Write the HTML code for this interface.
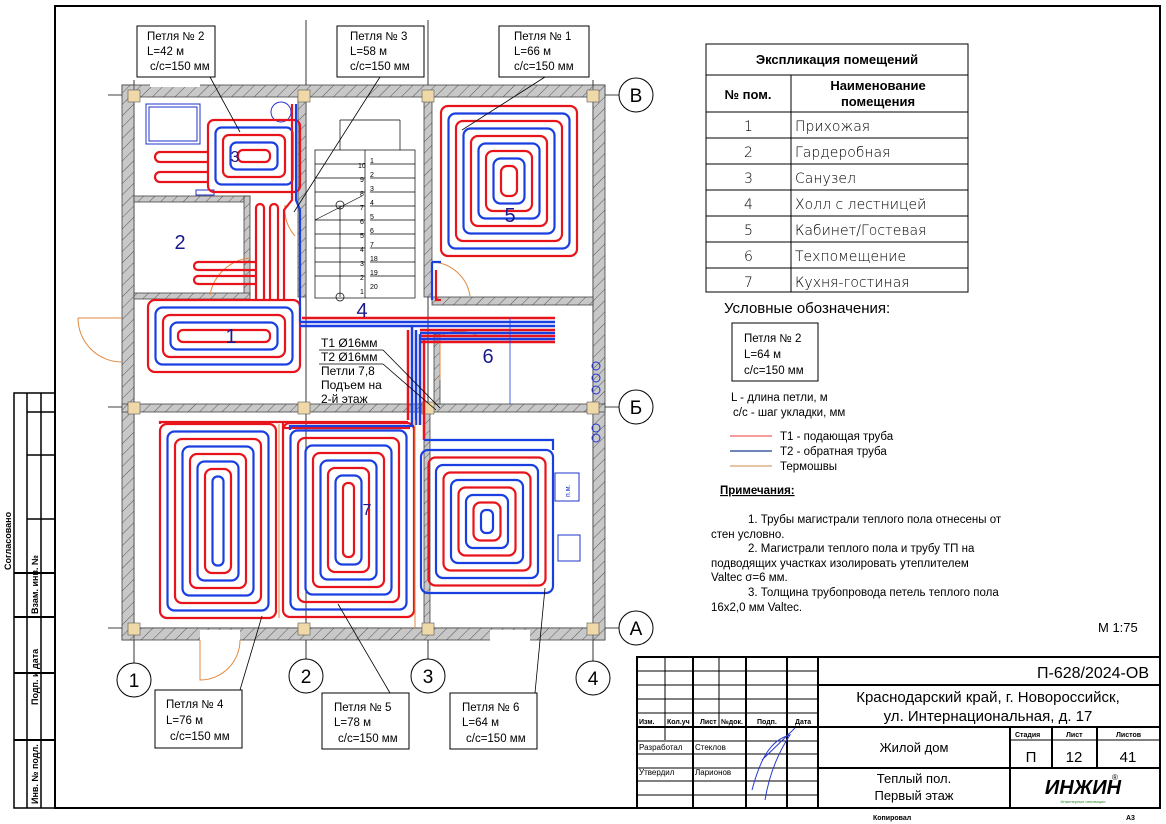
<!DOCTYPE html>
<html><head><meta charset="utf-8"><style>
html,body{margin:0;padding:0;background:#fff;width:1166px;height:824px;overflow:hidden}
svg{display:block;font-family:"Liberation Sans","DejaVu Sans",sans-serif}
</style></head><body>
<svg width="1166" height="824" viewBox="0 0 1166 824" xmlns="http://www.w3.org/2000/svg">
<defs>
<pattern id="h" width="8" height="8" patternUnits="userSpaceOnUse" patternTransform="rotate(45)"><rect width="8" height="8" fill="#c8c8c8"/><line x1="0" y1="0" x2="0" y2="8" stroke="#555" stroke-width="1"/></pattern>
</defs>
<!-- frame -->
<rect x="55" y="6" width="1105" height="802" fill="none" stroke="#000" stroke-width="2"/>
<!-- left strip -->
<g stroke="#000" stroke-width="1.5" fill="none">
<rect x="14" y="393" width="41" height="415"/>
<line x1="27" y1="393" x2="27" y2="573"/><line x1="41" y1="393" x2="41" y2="808"/>
<line x1="27" y1="573" x2="27" y2="808"/>
<line x1="14" y1="573" x2="55" y2="573" stroke-width="2"/>
<line x1="27" y1="412" x2="55" y2="412"/><line x1="27" y1="455" x2="55" y2="455"/><line x1="27" y1="519" x2="55" y2="519"/>
<line x1="14" y1="617" x2="55" y2="617" stroke-width="2"/>
<line x1="14" y1="673" x2="55" y2="673" stroke-width="2"/>
<line x1="14" y1="740" x2="55" y2="740" stroke-width="2"/>
</g>
<g font-size="9" font-weight="bold" fill="#000">
<text transform="translate(11,570) rotate(-90)">Согласовано</text>
<text transform="translate(38,614) rotate(-90)">Взам. инв. №</text>
<text transform="translate(38,705) rotate(-90)">Подп. и дата</text>
<text transform="translate(38,804) rotate(-90)">Инв. № подл.</text>
</g>

<!-- axes lines -->
<g stroke="#000" stroke-width="0.8">
<line x1="108" y1="95" x2="619" y2="95"/><line x1="108" y1="407" x2="619" y2="407"/><line x1="108" y1="628" x2="619" y2="628"/>
<line x1="134" y1="80" x2="134" y2="663"/><line x1="306" y1="20" x2="306" y2="659"/><line x1="428" y1="20" x2="428" y2="659"/><line x1="593" y1="80" x2="593" y2="661"/>
</g>
<g fill="#fff" stroke="#000" stroke-width="1">
<circle cx="636" cy="95" r="17"/><circle cx="636" cy="407" r="17"/><circle cx="636" cy="628" r="17"/>
<circle cx="134" cy="680" r="17"/><circle cx="306" cy="676" r="17"/><circle cx="428" cy="676" r="17"/><circle cx="593" cy="678" r="17"/>
</g>
<g font-size="19" text-anchor="middle" fill="#000">
<text x="636" y="102">В</text><text x="636" y="414">Б</text><text x="636" y="635">А</text>
<text x="134" y="687">1</text><text x="306" y="683">2</text><text x="428" y="683">3</text><text x="593" y="685">4</text>
</g>

<!-- walls -->
<g stroke="#444" stroke-width="0.8">
<rect x="122" y="85" width="483" height="12" fill="url(#h)"/>
<rect x="122" y="628" width="483" height="12" fill="url(#h)"/>
<rect x="122" y="85" width="12" height="555" fill="url(#h)"/>
<rect x="593" y="85" width="12" height="555" fill="url(#h)"/>
<rect x="122" y="404" width="483" height="8" fill="url(#h)"/>
<rect x="298" y="97" width="8" height="200" fill="url(#h)"/>
<rect x="424" y="97" width="8" height="200" fill="url(#h)"/>
<rect x="424" y="412" width="6" height="216" fill="url(#h)"/>
<rect x="432" y="297" width="161" height="8" fill="url(#h)"/>
<rect x="134" y="196" width="116" height="6" fill="url(#h)"/>
<rect x="244" y="196" width="6" height="100" fill="url(#h)"/>
<rect x="134" y="293" width="116" height="6" fill="url(#h)"/>
<rect x="434" y="334" width="6" height="70" fill="url(#h)"/>
</g>
<g fill="#f0d9a8" stroke="#555" stroke-width="0.6">
<rect x="128" y="90" width="12" height="12"/><rect x="298" y="90" width="12" height="12"/><rect x="422" y="90" width="12" height="12"/><rect x="587" y="90" width="12" height="12"/>
<rect x="128" y="402" width="12" height="12"/><rect x="298" y="402" width="12" height="12"/><rect x="422" y="402" width="12" height="12"/><rect x="587" y="402" width="12" height="12"/>
<rect x="128" y="623" width="12" height="12"/><rect x="298" y="623" width="12" height="12"/><rect x="422" y="623" width="12" height="12"/><rect x="587" y="623" width="12" height="12"/>
</g>
<!-- openings (white gaps) -->
<g fill="#fff">
<rect x="200" y="630" width="40" height="12"/><rect x="490" y="630" width="40" height="12"/>
<rect x="150" y="83" width="50" height="4"/>
</g>
<!-- stairs -->
<g stroke="#000" stroke-width="0.7" fill="none">
<rect x="315" y="150" width="100" height="148"/>
<line x1="365" y1="150" x2="365" y2="298"/>
<line x1="340" y1="120" x2="400" y2="120"/><line x1="340" y1="120" x2="340" y2="150"/><line x1="400" y1="120" x2="400" y2="150"/>
<line x1="315" y1="164" x2="365" y2="164"/><line x1="315" y1="178" x2="365" y2="178"/><line x1="315" y1="192" x2="365" y2="192"/><line x1="315" y1="206" x2="365" y2="206"/><line x1="315" y1="220" x2="365" y2="220"/><line x1="315" y1="234" x2="365" y2="234"/><line x1="315" y1="248" x2="365" y2="248"/><line x1="315" y1="262" x2="365" y2="262"/><line x1="315" y1="276" x2="365" y2="276"/>
<line x1="370" y1="164" x2="415" y2="164"/><line x1="370" y1="178" x2="415" y2="178"/><line x1="370" y1="192" x2="415" y2="192"/><line x1="370" y1="206" x2="415" y2="206"/><line x1="370" y1="220" x2="415" y2="220"/><line x1="370" y1="234" x2="415" y2="234"/><line x1="370" y1="248" x2="415" y2="248"/><line x1="370" y1="262" x2="415" y2="262"/><line x1="370" y1="276" x2="415" y2="276"/>
<line x1="340" y1="206" x2="340" y2="297"/><circle cx="340" cy="205" r="4"/><circle cx="340" cy="297" r="4"/>
<line x1="315" y1="220" x2="362" y2="196"/>
</g>
<g font-size="7" fill="#000"><text x="358" y="168">10</text><text x="360" y="182">9</text><text x="360" y="196">8</text><text x="360" y="210">7</text><text x="360" y="224">6</text><text x="360" y="238">5</text><text x="360" y="252">4</text><text x="360" y="266">3</text><text x="360" y="280">2</text><text x="360" y="294">1</text>
<text x="370" y="163">1</text><text x="370" y="177">2</text><text x="370" y="191">3</text><text x="370" y="205">4</text><text x="370" y="219">5</text><text x="370" y="233">6</text><text x="370" y="247">7</text><text x="370" y="261">18</text><text x="370" y="275">19</text><text x="370" y="289">20</text></g>
<!-- fixtures -->
<g stroke="#2233cc" stroke-width="1" fill="none">
<rect x="146" y="104" width="54" height="40"/><rect x="149" y="107" width="48" height="34"/>
<circle cx="281" cy="112" r="10"/><rect x="196" y="190" width="18" height="5"/>
<rect x="555" y="473" width="24" height="28"/><rect x="558" y="535" width="22" height="26"/>
<circle cx="596" cy="366" r="4"/><circle cx="596" cy="378" r="4"/><circle cx="596" cy="390" r="4"/><circle cx="596" cy="428" r="4"/><circle cx="596" cy="438" r="4"/>
</g>
<text x="570" y="497" font-size="7" fill="#2233cc" transform="rotate(-90 570 497)">п.м.</text>
<!-- doors orange -->
<g stroke="#e08a40" stroke-width="1" fill="none">
<path d="M78 318 L122 318 M78 318 A44 44 0 0 0 122 362"/>
<path d="M250 258 A45 45 0 0 0 210 295"/>
<path d="M285 205 A40 40 0 0 0 295 236"/>
<path d="M432 262 A40 40 0 0 1 470 296"/>
<path d="M440 336 L440 380 M440 336 A40 40 0 0 1 478 336"/>
<path d="M200 640 L200 680 A40 40 0 0 0 240 640"/>
</g>

<!-- heating loops -->
<g fill="none" stroke-width="2.2">
<!-- loop 4 -->
<rect x="160" y="424" width="116" height="194" rx="7" stroke="#e8141c"/>
<rect x="167.5" y="431.5" width="101" height="179" rx="7" stroke="#1a3fe0"/>
<rect x="175" y="439" width="86" height="164" rx="7" stroke="#e8141c"/>
<rect x="182.5" y="446.5" width="71" height="149" rx="7" stroke="#1a3fe0"/>
<rect x="190" y="454" width="56" height="134" rx="7" stroke="#e8141c"/>
<rect x="197.5" y="461.5" width="41" height="119" rx="7" stroke="#1a3fe0"/>
<rect x="205" y="469" width="26" height="104" rx="7" stroke="#e8141c"/>
<rect x="212.5" y="476.5" width="11" height="89" rx="5" stroke="#1a3fe0"/>
<!-- loop 5 -->
<rect x="283" y="423" width="131" height="194" rx="7" stroke="#e8141c"/>
<rect x="290.5" y="430.5" width="116" height="179" rx="7" stroke="#1a3fe0"/>
<rect x="298" y="438" width="101" height="164" rx="7" stroke="#e8141c"/>
<rect x="305.5" y="445.5" width="86" height="149" rx="7" stroke="#1a3fe0"/>
<rect x="313" y="453" width="71" height="134" rx="7" stroke="#e8141c"/>
<rect x="320.5" y="460.5" width="56" height="119" rx="7" stroke="#1a3fe0"/>
<rect x="328" y="468" width="41" height="104" rx="7" stroke="#e8141c"/>
<rect x="335.5" y="475.5" width="26" height="89" rx="7" stroke="#1a3fe0"/>
<rect x="343" y="483" width="11" height="74" rx="5" stroke="#e8141c"/>
<!-- loop 6 -->
<rect x="421" y="450" width="132" height="143" rx="7" stroke="#1a3fe0"/>
<rect x="428.5" y="457.5" width="117" height="128" rx="7" stroke="#e8141c"/>
<rect x="436" y="465" width="102" height="113" rx="7" stroke="#1a3fe0"/>
<rect x="443.5" y="472.5" width="87" height="98" rx="7" stroke="#e8141c"/>
<rect x="451" y="480" width="72" height="83" rx="7" stroke="#1a3fe0"/>
<rect x="458.5" y="487.5" width="57" height="68" rx="7" stroke="#e8141c"/>
<rect x="466" y="495" width="42" height="53" rx="7" stroke="#1a3fe0"/>
<rect x="473.5" y="502.5" width="27" height="38" rx="7" stroke="#e8141c"/>
<rect x="481" y="510" width="12" height="23" rx="5" stroke="#1a3fe0"/>
<!-- room 5 -->
<rect x="441" y="106" width="136" height="150" rx="7" stroke="#e8141c"/>
<rect x="448.5" y="113.5" width="121" height="135" rx="7" stroke="#1a3fe0"/>
<rect x="456" y="121" width="106" height="120" rx="7" stroke="#e8141c"/>
<rect x="463.5" y="128.5" width="91" height="105" rx="7" stroke="#1a3fe0"/>
<rect x="471" y="136" width="76" height="90" rx="7" stroke="#e8141c"/>
<rect x="478.5" y="143.5" width="61" height="75" rx="7" stroke="#1a3fe0"/>
<rect x="486" y="151" width="46" height="60" rx="7" stroke="#e8141c"/>
<rect x="493.5" y="158.5" width="31" height="45" rx="7" stroke="#1a3fe0"/>
<rect x="501" y="166" width="16" height="30" rx="6" stroke="#e8141c"/>
<!-- room 3 -->
<rect x="208" y="120" width="92" height="72" rx="6" stroke="#e8141c"/>
<rect x="215.5" y="127.5" width="77" height="57" rx="6" stroke="#1a3fe0"/>
<rect x="223" y="135" width="62" height="42" rx="6" stroke="#e8141c"/>
<rect x="230.5" y="142.5" width="47" height="27" rx="6" stroke="#1a3fe0"/>
<rect x="238" y="150" width="32" height="12" rx="5" stroke="#e8141c"/>
<path d="M208 152 H160 M208 162 H160 M208 172 H160 M208 182 H160 M160 152 A5 5 0 0 0 160 162 M160 172 A5 5 0 0 0 160 182" stroke="#e8141c"/>
<!-- room 1 -->
<rect x="148" y="300" width="152" height="72" rx="7" stroke="#e8141c"/>
<rect x="155.5" y="307.5" width="137" height="57" rx="7" stroke="#1a3fe0"/>
<rect x="163" y="315" width="122" height="42" rx="7" stroke="#e8141c"/>
<rect x="170.5" y="322.5" width="107" height="27" rx="7" stroke="#1a3fe0"/>
<rect x="178" y="330" width="92" height="12" rx="5" stroke="#e8141c"/>
<!-- corridor combs -->
<path d="M256 300 V208 A4 4 0 0 1 264 208 V300 M270 300 V208 A4 4 0 0 1 278 208 V300 M284 300 V210 L292 200 V104" stroke="#e8141c"/>
<path d="M256 262 H198 A4 4 0 0 0 198 270 H256 M256 276 H198 A4 4 0 0 0 198 284 H256" stroke="#e8141c"/>
<path d="M296 104 V200 L300 210 V322" stroke="#1a3fe0"/>
<!-- mains -->
<path d="M300 322 H555 M300 326 H555" stroke="#1a3fe0" stroke-width="2.5"/>
<path d="M302 318 H555" stroke="#e8141c" stroke-width="2.5"/>
<path d="M420 330 H555 M420 336 H555 M420 342 H555" stroke="#e8141c" stroke-width="2.5"/>
<path d="M420 333 H555 M420 339 H555" stroke="#1a3fe0" stroke-width="2.5"/>
<path d="M412 326 V425 M416 330 V425 M420 334 V425" stroke="#1a3fe0" stroke-width="2.5"/>
<path d="M408 330 V420 M424 340 V440" stroke="#e8141c" stroke-width="2.5"/>
<path d="M283 423 V428 H410 M160 424 V422 H408" stroke="#e8141c"/>
<path d="M290 430 V426 H414" stroke="#1a3fe0"/>
<path d="M424 440 H553 V450" stroke="#1a3fe0"/>
<path d="M432 262 V300 M432 262 H441" stroke="#1a3fe0"/>
<path d="M436 270 V300 H441" stroke="#e8141c"/>
<line x1="510" y1="318" x2="510" y2="404" stroke="#1a3fe0" stroke-width="0.8"/>
<line x1="415" y1="420" x2="415" y2="628" stroke="#e08a40" stroke-width="1"/>
<line x1="279" y1="424" x2="279" y2="618" stroke="#e08a40" stroke-width="1"/>
</g>
<!-- room numbers -->
<g font-size="20" fill="#1a1a8c" text-anchor="middle">
<text x="231" y="343">1</text><text x="180" y="249">2</text><text x="235" y="162" font-size="16">3</text><text x="362" y="317">4</text><text x="510" y="222">5</text><text x="488" y="363">6</text><text x="367" y="515" font-size="16">7</text>
</g>
<!-- pipe note -->
<g font-size="12" fill="#000">
<text x="321" y="347">Т1 Ø16мм</text><text x="321" y="361">Т2 Ø16мм</text><text x="321" y="375">Петли 7,8</text><text x="321" y="389">Подъем на</text><text x="321" y="403">2-й этаж</text>
</g>
<g stroke="#000" stroke-width="0.8" fill="none">
<line x1="319" y1="350" x2="383" y2="350"/><line x1="383" y1="350" x2="440" y2="408"/>
<line x1="319" y1="364" x2="383" y2="364"/><line x1="383" y1="364" x2="436" y2="410"/>
<!-- leaders -->
<line x1="210" y1="77" x2="240" y2="132"/><line x1="380" y1="77" x2="294" y2="212"/><line x1="545" y1="77" x2="462" y2="130"/>
<line x1="240" y1="690" x2="262" y2="616"/><line x1="390" y1="693" x2="338" y2="604"/><line x1="535" y1="693" x2="545" y2="588"/>
</g>
<!-- callout boxes -->
<g fill="#fff" stroke="#000" stroke-width="1">
<rect x="137" y="26" width="78" height="51"/><rect x="337" y="26" width="87" height="51"/><rect x="499" y="26" width="90" height="51"/>
<rect x="155" y="690" width="87" height="58"/><rect x="322" y="693" width="87" height="56"/><rect x="450" y="693" width="87" height="56"/>
<rect x="732" y="323" width="86" height="58"/>
</g>
<g font-size="11.5" fill="#000">
<text x="147" y="40">Петля № 2</text><text x="147" y="55">L=42 м</text><text x="150" y="70">c/c=150 мм</text>
<text x="350" y="40">Петля № 3</text><text x="350" y="55">L=58 м</text><text x="350" y="70">c/c=150 мм</text>
<text x="514" y="40">Петля № 1</text><text x="514" y="55">L=66 м</text><text x="514" y="70">c/c=150 мм</text>
<text x="166" y="708">Петля № 4</text><text x="166" y="724">L=76 м</text><text x="170" y="740">c/c=150 мм</text>
<text x="334" y="711">Петля № 5</text><text x="334" y="726">L=78 м</text><text x="338" y="742">c/c=150 мм</text>
<text x="462" y="711">Петля № 6</text><text x="462" y="726">L=64 м</text><text x="466" y="742">c/c=150 мм</text>
<text x="744" y="342">Петля № 2</text><text x="744" y="358">L=64 м</text><text x="744" y="374">c/c=150 мм</text>
</g>

<!-- explication table -->
<g stroke="#000" stroke-width="1" fill="none">
<rect x="706" y="44" width="262" height="248"/>
<line x1="706" y1="75" x2="968" y2="75"/><line x1="706" y1="112" x2="968" y2="112"/>
<line x1="706" y1="138" x2="968" y2="138"/><line x1="706" y1="164" x2="968" y2="164"/><line x1="706" y1="190" x2="968" y2="190"/><line x1="706" y1="216" x2="968" y2="216"/><line x1="706" y1="242" x2="968" y2="242"/><line x1="706" y1="268" x2="968" y2="268"/>
<line x1="791" y1="75" x2="791" y2="292"/>
</g>
<g font-size="13" fill="#000" font-weight="bold" text-anchor="middle">
<text x="837" y="64">Экспликация помещений</text>
<text x="748" y="99">№ пом.</text><text x="878" y="90">Наименование</text><text x="878" y="106">помещения</text>
</g>
<g font-size="14" fill="#000" font-family="'DejaVu Sans',sans-serif" font-weight="200">
<text x="744" y="131">1</text><text x="744" y="157">2</text><text x="744" y="183">3</text><text x="744" y="209">4</text><text x="744" y="235">5</text><text x="744" y="261">6</text><text x="744" y="287">7</text>
<text x="795" y="131">Прихожая</text><text x="795" y="157">Гардеробная</text><text x="795" y="183">Санузел</text><text x="795" y="209">Холл с лестницей</text><text x="795" y="235">Кабинет/Гостевая</text><text x="795" y="261">Техпомещение</text><text x="795" y="287">Кухня-гостиная</text>
</g>
<!-- legend -->
<text x="724" y="313" font-size="15" fill="#000">Условные обозначения:</text>
<g font-size="11.5" fill="#000">
<text x="731" y="401">L - длина петли, м</text><text x="733" y="416">с/с - шаг укладки, мм</text>
<text x="780" y="440">Т1 - подающая труба</text><text x="780" y="455">Т2 - обратная труба</text><text x="780" y="470">Термошвы</text>
<text x="720" y="494" font-weight="bold" text-decoration="underline">Примечания:</text>
<text x="748" y="523">1.    Трубы магистрали теплого пола отнесены от</text>
<text x="711" y="538">стен условно.</text>
<text x="748" y="552">2.    Магистрали теплого пола и трубу ТП на</text>
<text x="711" y="567">подводящих участках изолировать утеплителем</text>
<text x="711" y="581">Valtec σ=6 мм.</text>
<text x="748" y="596">3.    Толщина трубопровода петель теплого пола</text>
<text x="711" y="611">16х2,0 мм Valtec.</text>
<text x="1098" y="632" font-size="13">М 1:75</text>
</g>
<g stroke-width="1.2"><line x1="730" y1="436" x2="772" y2="436" stroke="#f06060"/><line x1="730" y1="451" x2="772" y2="451" stroke="#1a3f90"/><line x1="730" y1="466" x2="772" y2="466" stroke="#d8a070"/></g>

<!-- title block -->
<g stroke="#000" stroke-width="1" fill="none">
<rect x="637" y="657" width="523" height="151" stroke-width="2" fill="#fff"/>
<line x1="665" y1="657" x2="665" y2="740"/><line x1="693" y1="657" x2="693" y2="808" stroke-width="2"/><line x1="719" y1="657" x2="719" y2="727"/><line x1="746" y1="657" x2="746" y2="808" stroke-width="2"/><line x1="787" y1="657" x2="787" y2="808" stroke-width="2"/><line x1="818" y1="657" x2="818" y2="808" stroke-width="2"/>
<line x1="637" y1="671" x2="818" y2="671"/><line x1="637" y1="685" x2="818" y2="685"/><line x1="637" y1="699" x2="818" y2="699"/><line x1="637" y1="713" x2="818" y2="713"/><line x1="637" y1="727" x2="818" y2="727" stroke-width="2"/><line x1="637" y1="741" x2="818" y2="741"/><line x1="637" y1="754" x2="818" y2="754"/><line x1="637" y1="768" x2="818" y2="768"/><line x1="637" y1="781" x2="818" y2="781"/><line x1="637" y1="795" x2="818" y2="795"/>
<line x1="818" y1="685" x2="1160" y2="685" stroke-width="2"/><line x1="818" y1="727" x2="1160" y2="727" stroke-width="2"/><line x1="818" y1="768" x2="1160" y2="768" stroke-width="2"/>
<line x1="1010" y1="727" x2="1010" y2="808" stroke-width="2"/><line x1="1052" y1="727" x2="1052" y2="768" stroke-width="2"/><line x1="1097" y1="727" x2="1097" y2="768" stroke-width="2"/><line x1="1010" y1="740" x2="1160" y2="740"/>
</g>
<g font-size="7" font-weight="bold" fill="#000">
<text x="639" y="724">Изм.</text><text x="667" y="724">Кол.уч</text><text x="700" y="724">Лист</text><text x="721" y="724">№док.</text><text x="757" y="724">Подп.</text><text x="795" y="724">Дата</text>
<text x="639" y="750" font-weight="normal" font-size="8">Разработал</text><text x="695" y="750" font-size="8" font-weight="normal">Стеклов</text>
<text x="639" y="775" font-weight="normal" font-size="8">Утвердил</text><text x="695" y="775" font-size="8" font-weight="normal">Ларионов</text>
<text x="1015" y="737">Стадия</text><text x="1066" y="737">Лист</text><text x="1116" y="737">Листов</text>
<text x="873" y="820">Копировал</text><text x="1126" y="820">А3</text>
</g>
<path d="M752 790 C760 760 770 740 790 735 C780 750 770 770 765 800 M762 760 L795 728" stroke="#2a3ad0" stroke-width="1" fill="none"/>
<g fill="#000" text-anchor="middle">
<text x="1149" y="678" font-size="16" text-anchor="end">П-628/2024-ОВ</text>
<text x="988" y="702" font-size="15">Краснодарский край, г. Новороссийск,</text>
<text x="988" y="721" font-size="15">ул. Интернациональная, д. 17</text>
<text x="914" y="752" font-size="13">Жилой дом</text>
<text x="914" y="783" font-size="13">Теплый пол.</text><text x="914" y="800" font-size="13">Первый этаж</text>
<text x="1031" y="762" font-size="15">П</text><text x="1074" y="762" font-size="15">12</text><text x="1128" y="762" font-size="15">41</text>
<text x="1083" y="794" font-size="20" font-weight="bold" font-style="italic">ИНЖИН</text>
<text x="1083" y="803" font-size="4" fill="#2a8a2a">Инженерные инновации</text>
<text x="1115" y="780" font-size="8">®</text>
</g>
</svg>
</body></html>
